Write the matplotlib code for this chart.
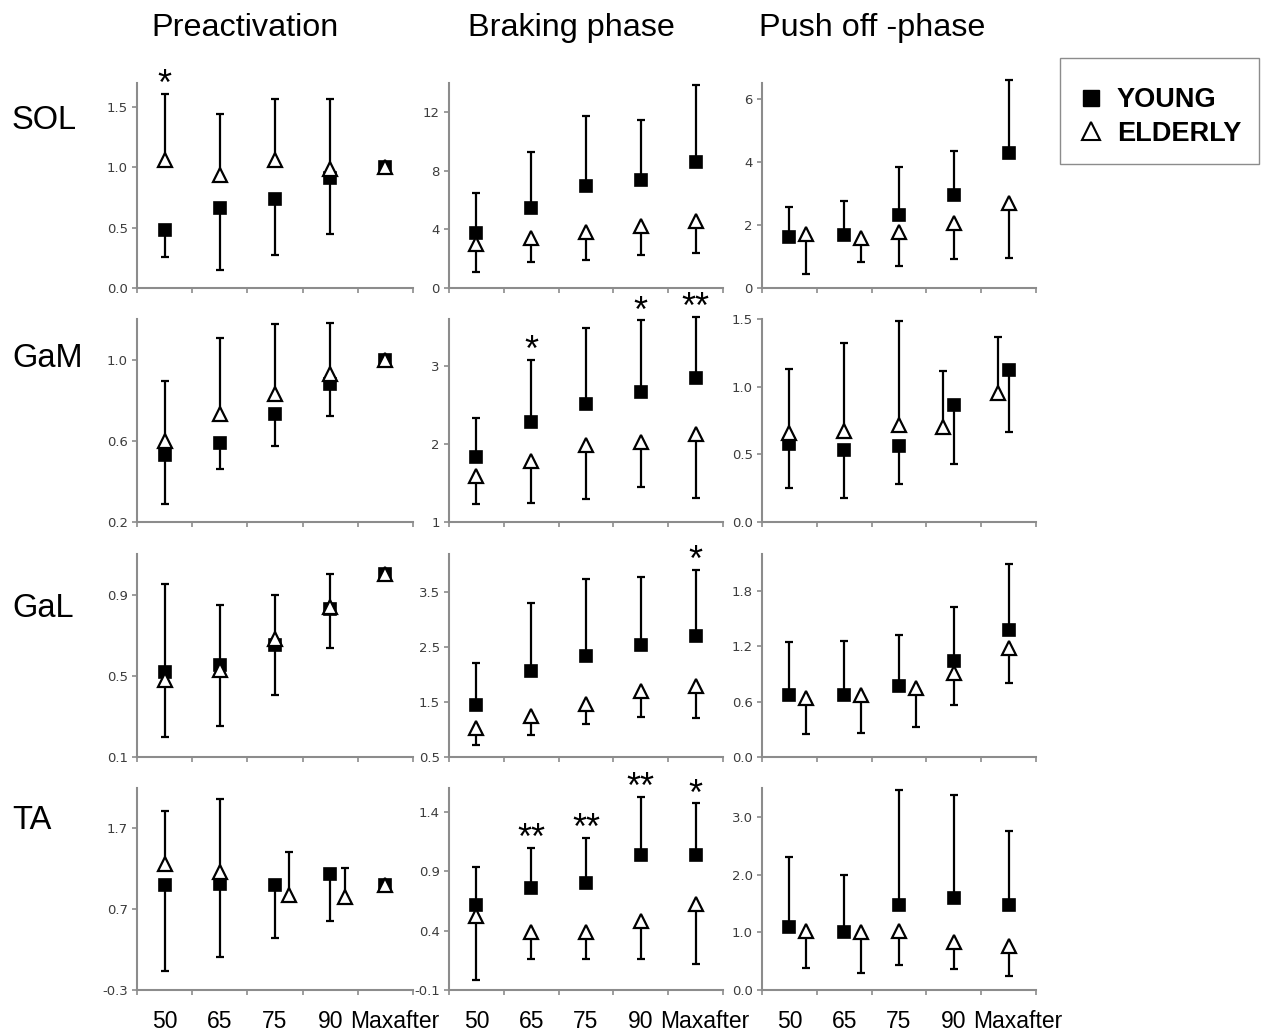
import numpy as np
import matplotlib
matplotlib.use("Agg")
import matplotlib.pyplot as plt
import matplotlib.transforms as mtransforms
from matplotlib.lines import Line2D

plt.rcParams['font.family'] = ['Liberation Sans', 'DejaVu Sans']

categories = ["50", "65", "75", "90", "Maxafter"]
phases = ["Preactivation", "Braking phase", "Push off -phase"]
muscles = ["SOL", "GaM", "GaL", "TA"]

# rows = phases (preactivation, braking, push off); one-sided SD
sol_young = [[0.48, 0.66, 0.74, 0.91, 1.00],
             [3.76, 5.43, 6.96, 7.37, 8.63],
             [1.61, 1.67, 2.30, 2.96, 4.27]]
sol_young_sd = [[0.22, 0.51, 0.47, 0.46, 0.0],
                [2.70, 3.89, 4.81, 4.08, 5.20],
                [0.96, 1.09, 1.54, 1.38, 2.31]]
sol_elderly = [[1.06, 0.94, 1.06, 0.99, 1.00],
               [3.02, 3.41, 3.82, 4.21, 4.56],
               [1.70, 1.60, 1.78, 2.05, 2.68]]
sol_elderly_sd = [[0.55, 0.50, 0.51, 0.58, 0.0],
                  [1.94, 1.65, 1.94, 1.99, 2.20],
                  [1.25, 0.78, 1.07, 1.13, 1.72]]

gam_young = [[0.53, 0.59, 0.73, 0.88, 1.00],
             [1.83, 2.28, 2.51, 2.67, 2.84],
             [0.58, 0.53, 0.56, 0.865, 1.125]]
gam_young_sd = [[0.24, 0.13, 0.155, 0.16, 0.0],
                [0.505, 0.795, 0.97, 0.915, 0.785],
                [0.33, 0.35, 0.28, 0.44, 0.46]]
gam_elderly = [[0.60, 0.73, 0.83, 0.93, 1.00],
               [1.59, 1.78, 1.98, 2.02, 2.13],
               [0.66, 0.675, 0.72, 0.70, 0.95]]
gam_elderly_sd = [[0.295, 0.375, 0.345, 0.25, 0.0],
                  [0.365, 0.54, 0.685, 0.575, 0.82],
                  [0.47, 0.645, 0.765, 0.415, 0.415]]

gal_young = [[0.52, 0.555, 0.65, 0.83, 1.00],
             [1.44, 2.07, 2.34, 2.545, 2.71],
             [0.67, 0.67, 0.765, 1.035, 1.38]]
gal_young_sd = [[0.32, 0.30, 0.245, 0.195, 0.0],
                [0.78, 1.23, 1.41, 1.24, 1.20],
                [0.58, 0.59, 0.555, 0.59, 0.715]]
gal_elderly = [[0.48, 0.53, 0.68, 0.84, 1.00],
               [1.035, 1.25, 1.46, 1.705, 1.795],
               [0.635, 0.67, 0.75, 0.915, 1.18]]
gal_elderly_sd = [[0.47, 0.32, 0.22, 0.16, 0.0],
                  [0.32, 0.355, 0.365, 0.47, 0.59],
                  [0.39, 0.41, 0.42, 0.35, 0.375]]

ta_young = [[1.00, 1.01, 1.00, 1.14, 1.00],
            [0.615, 0.755, 0.80, 1.035, 1.035],
            [1.10, 1.00, 1.48, 1.59, 1.47]]
ta_young_sd = [[1.06, 0.905, 0.655, 0.58, 0.0],
               [0.32, 0.34, 0.38, 0.49, 0.435],
               [1.21, 1.00, 1.98, 1.79, 1.28]]
ta_elderly = [[1.26, 1.16, 0.875, 0.855, 1.00],
              [0.52, 0.39, 0.39, 0.48, 0.62],
              [1.03, 1.01, 1.03, 0.84, 0.755]]
ta_elderly_sd = [[0.66, 0.91, 0.535, 0.36, 0.0],
                 [0.535, 0.23, 0.23, 0.32, 0.505],
                 [0.645, 0.72, 0.60, 0.48, 0.515]]

young = [sol_young, gam_young, gal_young, ta_young]
young_sd = [sol_young_sd, gam_young_sd, gal_young_sd, ta_young_sd]
elderly = [sol_elderly, gam_elderly, gal_elderly, ta_elderly]
elderly_sd = [sol_elderly_sd, gam_elderly_sd, gal_elderly_sd, ta_elderly_sd]

# significance marks: (muscle row, phase col, category index, text)
signif = [(0, 0, 0, "*"),
          (1, 1, 1, "*"), (1, 1, 3, "*"), (1, 1, 4, "**"),
          (2, 1, 4, "*"),
          (3, 1, 1, "**"), (3, 1, 2, "**"), (3, 1, 3, "**"), (3, 1, 4, "*")]

# y axes
ylims = [[(0, 1.7), (0, 14), (0, 6.5)],
         [(0.2, 1.2), (1, 3.6), (0, 1.5)],
         [(0.1, 1.1), (0.5, 4.2), (0, 2.2)],
         [(-0.3, 2.2), (-0.1, 1.6), (0, 3.5)]]
yticks = [[["0.0", "0.5", "1.0", "1.5"], ["0", "4", "8", "12"], ["0", "2", "4", "6"]],
          [["0.2", "0.6", "1.0"], ["1", "2", "3"], ["0.0", "0.5", "1.0", "1.5"]],
          [["0.1", "0.5", "0.9"], ["0.5", "1.5", "2.5", "3.5"], ["0.0", "0.6", "1.2", "1.8"]],
          [["-0.3", "0.7", "1.7"], ["-0.1", "0.4", "0.9", "1.4"], ["0.0", "1.0", "2.0", "3.0"]]]

# which series has its SD bar pointing up (young, elderly)
young_up = [[False, True, True], [False, True, False], [False, True, True], [False, True, True]]

# horizontal shift of the elderly markers inside a category (layout only)
shift = np.zeros((4, 3, 5))
shift[0, 2, :2] = 0.31
shift[1, 2, 3:] = -0.2
shift[2, 2, :3] = 0.31
shift[3, 0, 2:4] = 0.26
shift[3, 2, :2] = 0.31

W, H = 1265, 1032
fig = plt.figure(figsize=(W / 100, H / 100), dpi=100)
col_px = [(137, 413), (449, 723), (762, 1036)]
row_px = [(83, 288), (319, 522), (554, 757), (788, 990)]
axis_grey = '#8c8c8c'
pos = np.arange(len(categories)) + 0.5


def draw_series(ax, x, mean, sd, up, marker, face, ms, mew, z):
    x = np.asarray(x)
    mean = np.asarray(mean)
    sd = np.asarray(sd)
    tip = mean + sd if up else mean - sd
    has = sd > 0
    ax.vlines(x[has], mean[has], tip[has], colors='black', lw=1.6, zorder=z, clip_on=False)
    ax.plot(x[has], tip[has], ls='none', marker='_', ms=6, mew=1.6, color='black',
            zorder=z, clip_on=False)
    ax.plot(x, mean, ls='none', marker=marker, ms=ms, mfc=face, mec='black', mew=mew,
            zorder=z + 0.5, clip_on=False)
    return tip


for r in range(4):
    for c in range(3):
        x0, x1 = col_px[c]
        y0, y1 = row_px[r]
        ax = fig.add_axes([x0 / W, 1 - y1 / H, (x1 - x0) / W, (y1 - y0) / H])
        up = young_up[r][c]
        ty = draw_series(ax, pos, young[r][c], young_sd[r][c], up, 's', 'black', 9, 1.2, 3)
        te = draw_series(ax, pos + shift[r, c], elderly[r][c], elderly_sd[r][c], not up,
                         '^', 'white', 10.5, 1.6, 4)
        top = np.maximum(np.maximum(ty, te), np.maximum(young[r][c], elderly[r][c]))
        for (sr, sc, i, txt) in signif:
            if sr == r and sc == c:
                ax.annotate(txt, xy=(pos[i], top[i]), xytext=(0, -1.0),
                            textcoords='offset points', ha='center', va='baseline',
                            fontsize=26, annotation_clip=False)

        ax.set_xlim(0, len(categories))
        ax.set_ylim(*ylims[r][c])
        labels = yticks[r][c]
        ax.set_yticks([float(v) for v in labels])
        ax.set_yticklabels(labels, fontsize=9.5, color='#3c3c3c', family='DejaVu Sans')
        ax.set_xticks(np.arange(len(categories) + 1))
        ax.set_xticklabels([])
        if r == 3:
            ax.set_xticks(pos, categories, minor=True, fontsize=16.5)
            ax.tick_params(axis='x', which='minor', length=0, pad=14.5)
            last = ax.get_xticklabels(minor=True)[-1]
            last.set_transform(last.get_transform() +
                               mtransforms.ScaledTranslation(9 / 100, 0, fig.dpi_scale_trans))
        for s in ['top', 'right']:
            ax.spines[s].set_visible(False)
        for s in ['left', 'bottom']:
            ax.spines[s].set_color(axis_grey)
            ax.spines[s].set_linewidth(1.5)
        ax.tick_params(axis='both', which='major', direction='out', length=3.5,
                       width=1.2, color=axis_grey, pad=3)
        ax.patch.set_alpha(0)

title_x = [245, 571, 872]
for c, t in enumerate(phases):
    fig.text(title_x[c] / W, 1 - 36 / H, t, ha='center', va='baseline', fontsize=23.3)

label_y = [129, 367, 617, 829]
for r, m in enumerate(muscles):
    fig.text(12 / W, 1 - label_y[r] / H, m, ha='left', va='baseline', fontsize=23.5)

handles = [Line2D([], [], ls='none', marker='s', ms=11.5, mfc='black', mec='black'),
           Line2D([], [], ls='none', marker='^', ms=13, mfc='white', mec='black', mew=1.5)]
fig.legend(handles, ["YOUNG", "ELDERLY"], loc='upper left',
           bbox_to_anchor=(1060 / W, 1 - 58 / H), frameon=True, fancybox=False,
           edgecolor=axis_grey, framealpha=1, prop={'size': 19.5, 'weight': 'bold'},
           handlelength=1.0, handletextpad=0.45, borderpad=0.65, labelspacing=0.28,
           borderaxespad=0, title=' ', title_fontsize=3)

fig.savefig('out.png', dpi=100)
